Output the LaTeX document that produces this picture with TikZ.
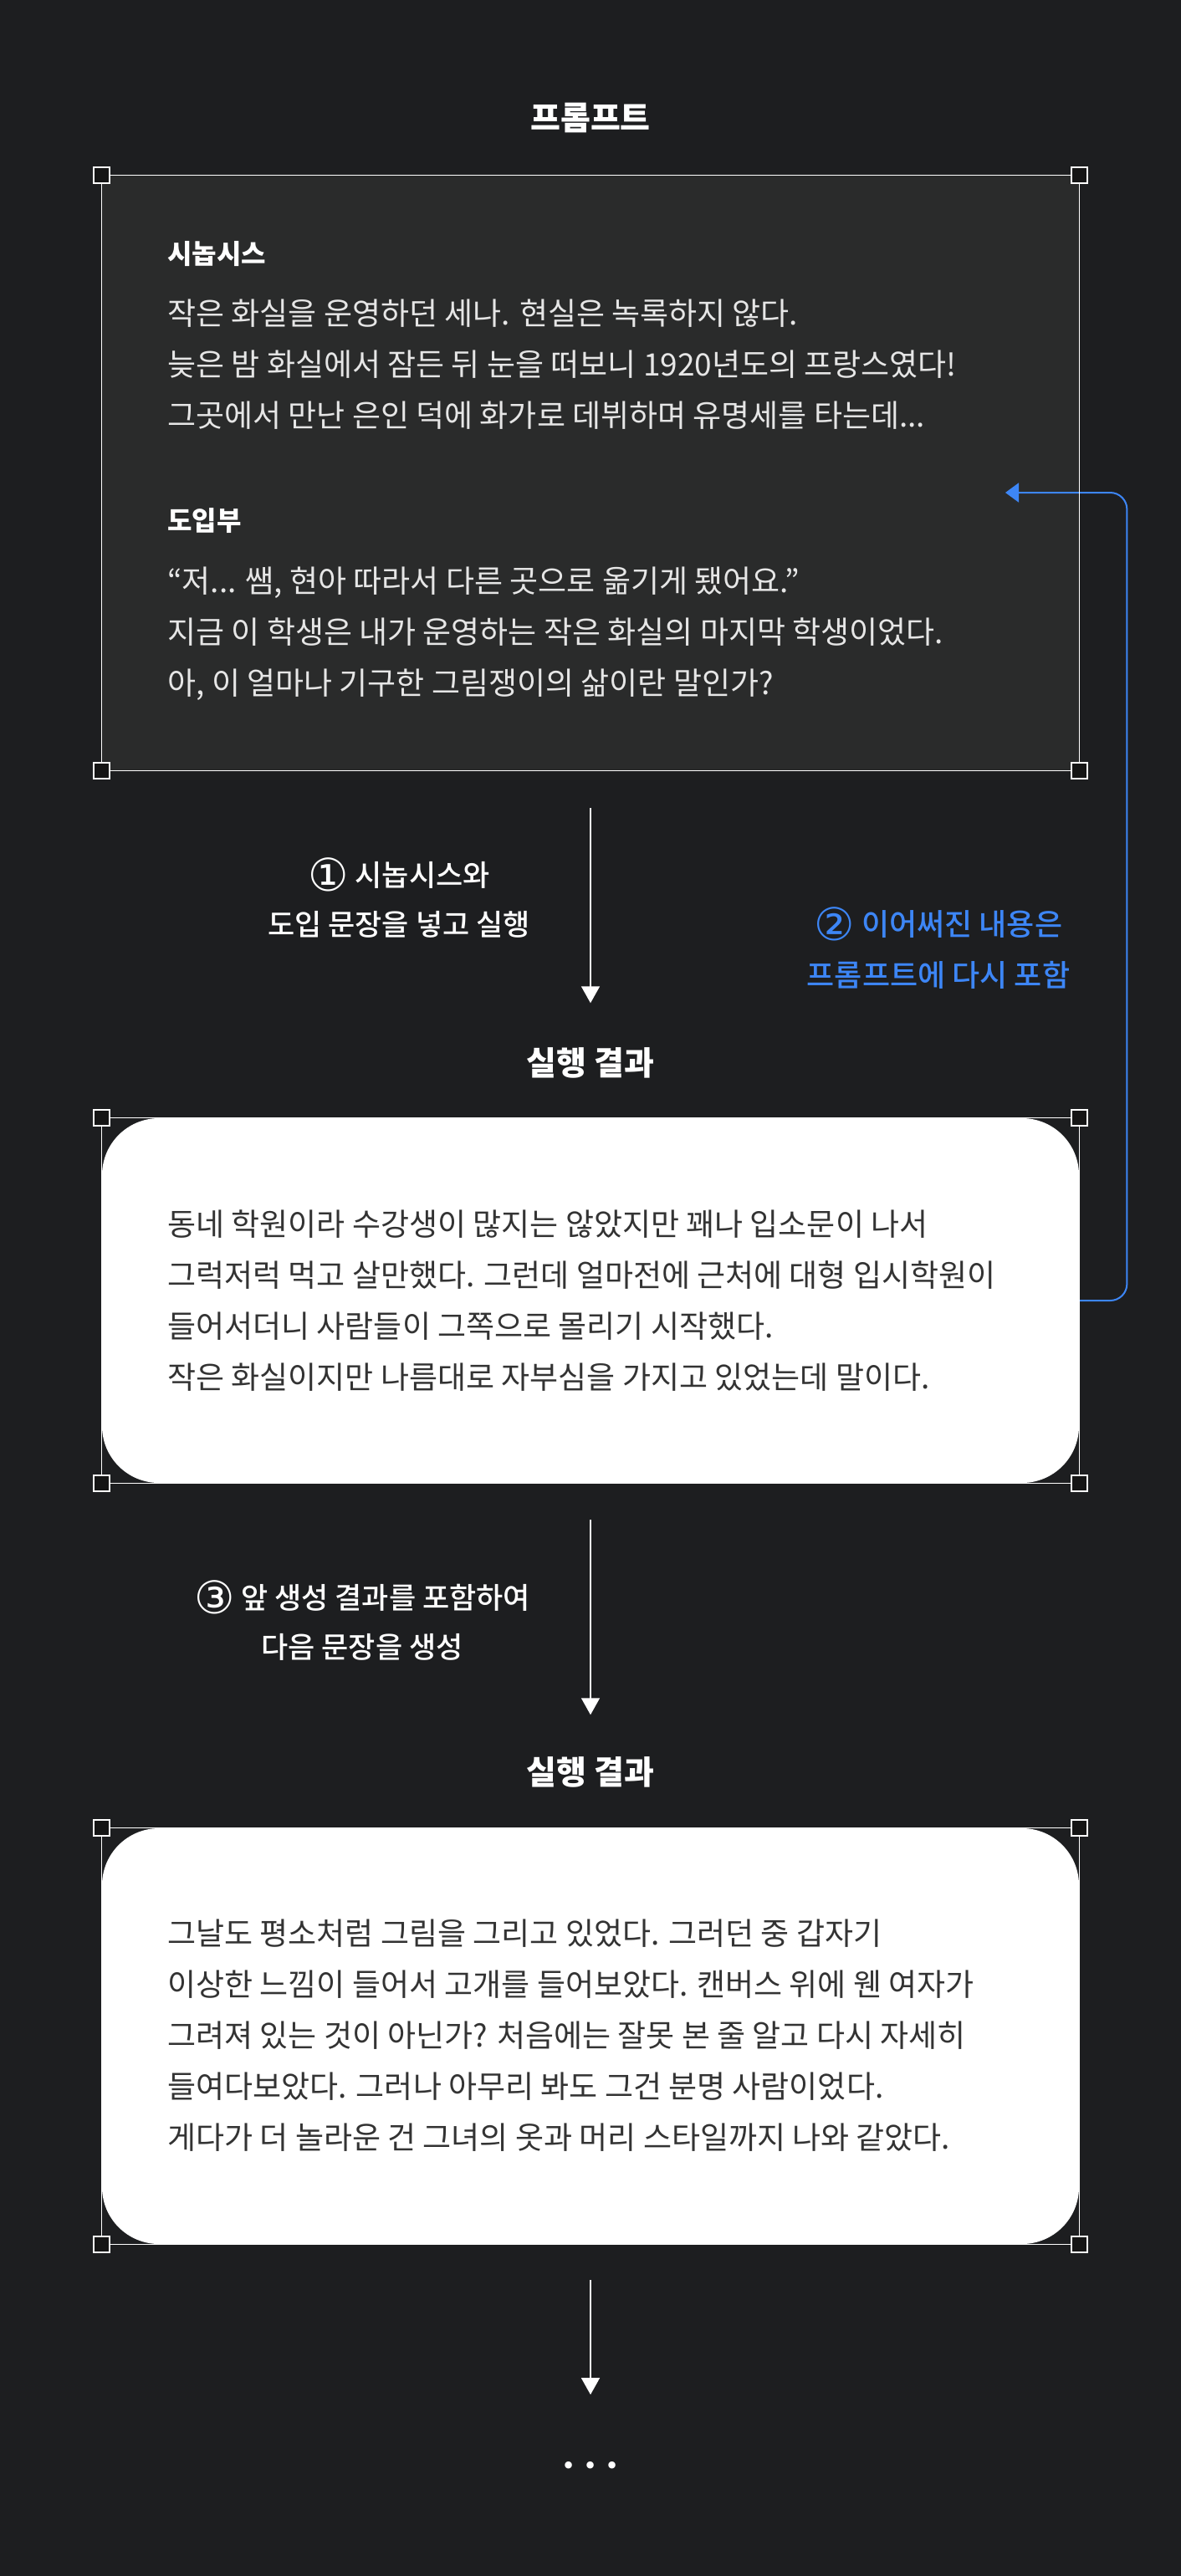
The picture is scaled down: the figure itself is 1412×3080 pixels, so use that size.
\documentclass[tikz,border=0pt]{standalone}
\usepackage{fontspec}
\setmainfont{Noto Sans CJK KR}
\newfontfamily\medfont{Noto Sans CJK KR}[UprightFont=* Medium]
\newfontfamily\symfont{DejaVu Sans}
\usetikzlibrary{arrows.meta}

\definecolor{bgdark}{HTML}{1D1E20}
\definecolor{boxdark}{HTML}{2A2B2B}
\definecolor{handlefill}{HTML}{151515}
\definecolor{linkblue}{HTML}{3D86F6}
\definecolor{inkgray}{HTML}{333333}
\definecolor{paper}{HTML}{E6E6E6}

% big circled step numbers
\newcommand{\circnum}[1]{\raisebox{-3pt}{\smash{\symfont\fontsize{27}{27}\selectfont #1}}}

\tikzset{
    title/.style={font=\fontsize{19.5}{24}\bfseries, text=white, inner sep=0pt},
    heading/.style={font=\fontsize{16}{20}\bfseries, text=white, inner sep=0pt, anchor=west},
    para/.style={font=\fontsize{18.5}{30.5}\selectfont, align=left, inner sep=0pt, anchor=west},
    steplabel/.style={font=\fontsize{17.5}{29.5}\medfont, align=center, inner sep=0pt, text=white},
    resultbox/.style={fill=white, rounded corners=34pt, minimum width=584pt, inner sep=0pt},
    frame/.style={draw=white, line width=0.75pt},
    handle/.style={draw=white, fill=handlefill, line width=1pt, minimum size=9.5pt, inner sep=0pt},
    flow/.style={draw=white, line width=0.75pt, -{Triangle[length=10pt,width=11pt]}},
    loopline/.style={draw=linkblue, line width=1pt, rounded corners=10pt, -{Triangle[length=8pt,width=11.5pt]}}
}

\begin{document}
\begin{tikzpicture}[x=0.5pt, y=-0.5pt]
    \fill[bgdark] (0,0) rectangle (1412,3080);

    % prompt
    \node[title] (title0) at (706,141) {프롬프트};
    \node[fill=boxdark, minimum width=584pt, minimum height=355.5pt, inner sep=0pt] (prompt) at (706,565.5) {};
    \node[heading] (syn) at (200,304) {시놉시스};
    \node[para, text=paper] (synp) at (200,436) {작은 화실을 운영하던 세나. 현실은 녹록하지 않다.\\늦은 밤 화실에서 잠든 뒤 눈을 떠보니 1920년도의 프랑스였다!\\그곳에서 만난 은인 덕에 화가로 데뷔하며 유명세를 타는데...};
    \node[heading] (intro) at (200,623) {도입부};
    \node[para, text=paper] (introp) at (200,758) {“저... 쌤, 현아 따라서 다른 곳으로 옮기게 됐어요.”\\지금 이 학생은 내가 운영하는 작은 화실의 마지막 학생이었다.\\아, 이 얼마나 기구한 그림쟁이의 삶이란 말인가?};

    % first result
    \node[steplabel] (step1) at (477,1076) {\circnum{①} 시놉시스와\\도입 문장을 넣고 실행};
    \node[steplabel, text=linkblue, font=\fontsize{18}{30.5}\medfont] (step2) at (1122,1136) {\circnum{②} 이어써진 내용은\\프롬프트에 다시 포함};
    \node[title] (title1) at (706,1271) {실행 결과};
    \node[resultbox, minimum height=218pt] (res1) at (706,1555) {};
    \node[para, text=inkgray] (res1p) at (200,1555) {동네 학원이라 수강생이 많지는 않았지만 꽤나 입소문이 나서\\그럭저럭 먹고 살만했다. 그런데 얼마전에 근처에 대형 입시학원이\\들어서더니 사람들이 그쪽으로 몰리기 시작했다.\\작은 화실이지만 나름대로 자부심을 가지고 있었는데 말이다.};

    % second result
    \node[steplabel] (step3) at (433,1940) {\circnum{③} 앞 생성 결과를 포함하여\\다음 문장을 생성};
    \node[title] (title2) at (706,2119) {실행 결과};
    \node[resultbox, minimum height=248.5pt] (res2) at (706,2434.5) {};
    \node[para, text=inkgray] (res2p) at (200,2434) {그날도 평소처럼 그림을 그리고 있었다. 그러던 중 갑자기\\이상한 느낌이 들어서 고개를 들어보았다. 캔버스 위에 웬 여자가\\그려져 있는 것이 아닌가? 처음에는 잘못 본 줄 알고 다시 자세히\\들여다보았다. 그러나 아무리 봐도 그건 분명 사람이었다.\\게다가 더 놀라운 건 그녀의 옷과 머리 스타일까지 나와 같았다.};
    \node[font=\symfont\fontsize{14.5}{16}\selectfont, text=white, inner sep=0pt] (dots) at (706,2951) {• • •};

    % connectors
    \draw[flow, shorten <=22.5pt, shorten >=26.5pt] (prompt.south) -- (title1.north);
    \draw[flow, shorten <=22pt, shorten >=25pt] (res1.south) -- (title2.north);
    \draw[flow, shorten <=21.5pt, shorten >=40pt] (res2.south) -- (dots.north);
    \coordinate (back) at (1202,589);
    \draw[loopline] (res1.east) -- ++(57,0) |- (back);

    % selection frames
    \draw[frame] (prompt.north west) rectangle (prompt.south east);
    \draw[frame] (res1.north west) rectangle (res1.south east);
    \draw[frame] (res2.north west) rectangle (res2.south east);
    \foreach \b in {prompt, res1, res2}
        \foreach \a in {north west, north east, south west, south east}
            \node[handle] at (\b.\a) {};
\end{tikzpicture}
\end{document}
